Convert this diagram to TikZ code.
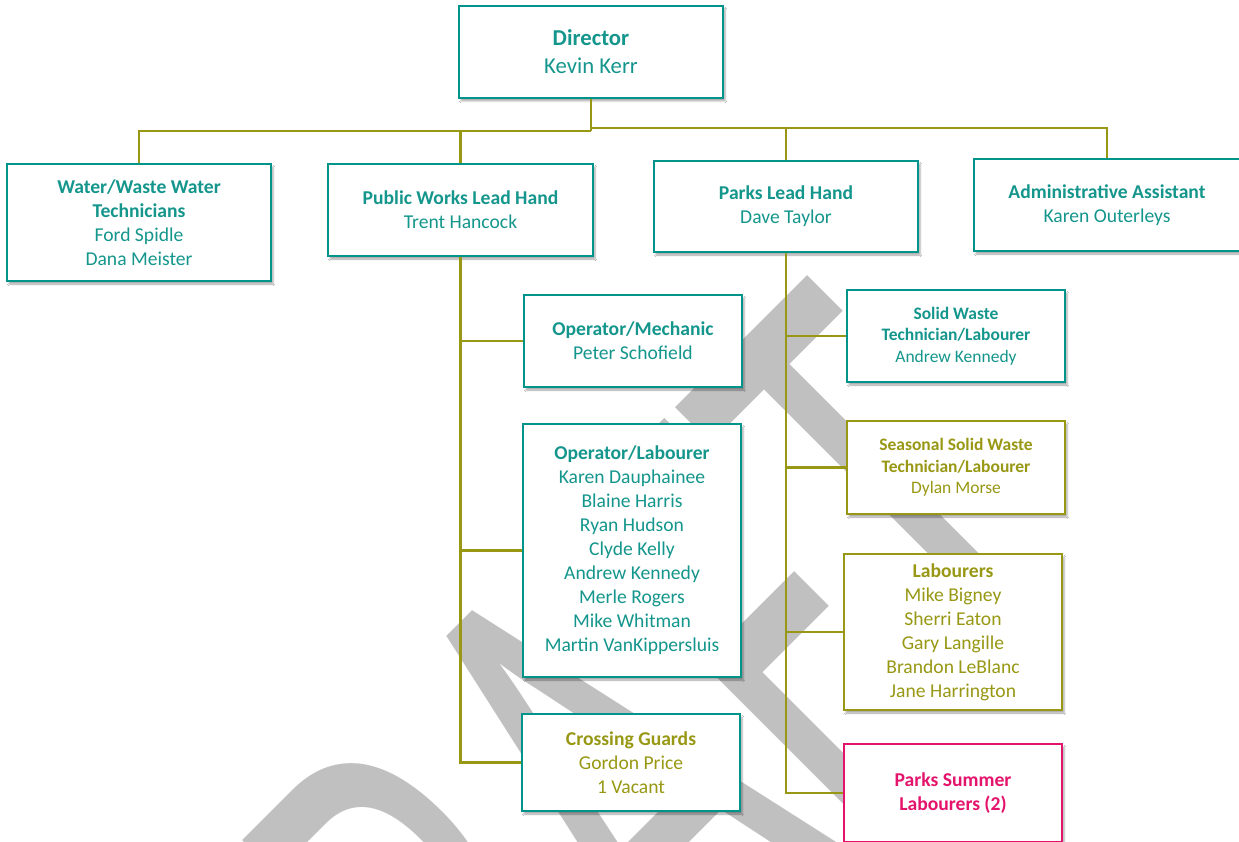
\documentclass[tikz,border=0pt]{standalone}
\usepackage{fontspec}
\setmainfont{Carlito}
\usetikzlibrary{shadows.blur,calc}
\definecolor{tealc}{RGB}{0,148,138}
\definecolor{tealt}{RGB}{20,150,140}
\definecolor{olivec}{RGB}{152,152,20}
\definecolor{pinkc}{RGB}{228,20,108}
\definecolor{wmgray}{RGB}{192,192,192}
\tikzset{
 box/.style={draw, line width=2.5pt, fill=white, align=center, inner sep=0pt,
   blur shadow={shadow xshift=2pt, shadow yshift=-3pt, shadow opacity=35, shadow blur steps=5}},
 tealbox/.style={box, draw=tealc, text=tealt},
 olivebox/.style={box, draw=olivec, text=olivec},
 pinkbox/.style={box, draw=pinkc, text=pinkc},
 conn/.style={draw=olivec, line width=2.5pt},
 bigtxt/.style={font=\fontsize{22.7}{28}\selectfont},
 midtxt/.style={font=\fontsize{19.6}{24}\selectfont},
 smltxt/.style={font=\fontsize{17.5}{21.3}\selectfont},
}
\begin{document}
\begin{tikzpicture}[x=1pt,y=-1pt]
\useasboundingbox (0,0) rectangle (1239,842);
\clip (0,0) rectangle (1239,842);
\fill[white] (0,0) rectangle (1239,842);
% watermark
\node[rotate=45, yscale=1.687, anchor=base east, inner sep=0pt, text=wmgray,
      font=\fontsize{403}{403}\selectfont] (wm) at (1120,580) {DRAFT};
% boxes
\node[tealbox, bigtxt, minimum width=264pt, minimum height=92pt] (dir) at (591,52)
  {\textbf{Director}\\Kevin Kerr};
\node[tealbox, midtxt, minimum width=264pt, minimum height=117pt] (water) at (139,222.5)
  {\textbf{Water/Waste Water}\\\textbf{Technicians}\\Ford Spidle\\Dana Meister};
\node[tealbox, midtxt, minimum width=265pt, minimum height=92pt] (pw) at (460.5,210)
  {\textbf{Public Works Lead Hand}\\Trent Hancock};
\node[tealbox, midtxt, minimum width=264pt, minimum height=91pt] (parks) at (786,206.5)
  {\textbf{Parks Lead Hand}\\Dave Taylor};
\node[tealbox, midtxt, minimum width=266pt, minimum height=92pt] (admin) at (1107,205)
  {\textbf{Administrative Assistant}\\Karen Outerleys};
\node[tealbox, midtxt, minimum width=218pt, minimum height=92pt] (mech) at (633,341)
  {\textbf{Operator/Mechanic}\\Peter Schofield};
\node[tealbox, midtxt, minimum width=218pt, minimum height=253pt] (oplab) at (632,550.5)
  {\textbf{Operator/Labourer}\\Karen Dauphainee\\Blaine Harris\\Ryan Hudson\\Clyde Kelly\\Andrew Kennedy\\Merle Rogers\\Mike Whitman\\Martin VanKippersluis};
\node[tealbox, text=olivec, midtxt, minimum width=218pt, minimum height=97pt] (guards) at (631,762.5)
  {\textbf{Crossing Guards}\\Gordon Price\\1 Vacant};
\node[tealbox, smltxt, minimum width=218pt, minimum height=92pt] (solid) at (956,336)
  {\textbf{Solid Waste}\\\textbf{Technician/Labourer}\\Andrew Kennedy};
\node[olivebox, smltxt, minimum width=218pt, minimum height=93pt] (seas) at (956,467.5)
  {\textbf{Seasonal Solid Waste}\\\textbf{Technician/Labourer}\\Dylan Morse};
\node[olivebox, midtxt, minimum width=218pt, minimum height=156pt] (lab) at (953,632)
  {\textbf{Labourers}\\Mike Bigney\\Sherri Eaton\\Gary Langille\\Brandon LeBlanc\\Jane Harrington};
\node[pinkbox, midtxt, minimum width=218pt, minimum height=98pt] (summer) at (953,793)
  {\textbf{Parks Summer}\\\textbf{Labourers (2)}};
% connectors
\coordinate (jl) at (591,131);
\coordinate (jr) at (591,128);
\draw[conn] (dir.south) -- (jl);
\draw[conn] (jl) -| (water.north);
\draw[conn] (jl -| pw.north) -- (pw.north);
\draw[conn] (jr) -| (admin.north);
\draw[conn] (jr -| parks.north) -- (parks.north);
\draw[conn] (pw.south) |- (guards.west);
\draw[conn] (pw.south |- mech.west) -- (mech.west);
\draw[conn] (pw.south |- oplab.west) -- (oplab.west);
\draw[conn] (parks.south) |- (summer.west);
\draw[conn] (parks.south |- solid.west) -- (solid.west);
\draw[conn] (parks.south |- seas.west) -- (seas.west);
\draw[conn] (parks.south |- lab.west) -- (lab.west);
\end{tikzpicture}
\end{document}
